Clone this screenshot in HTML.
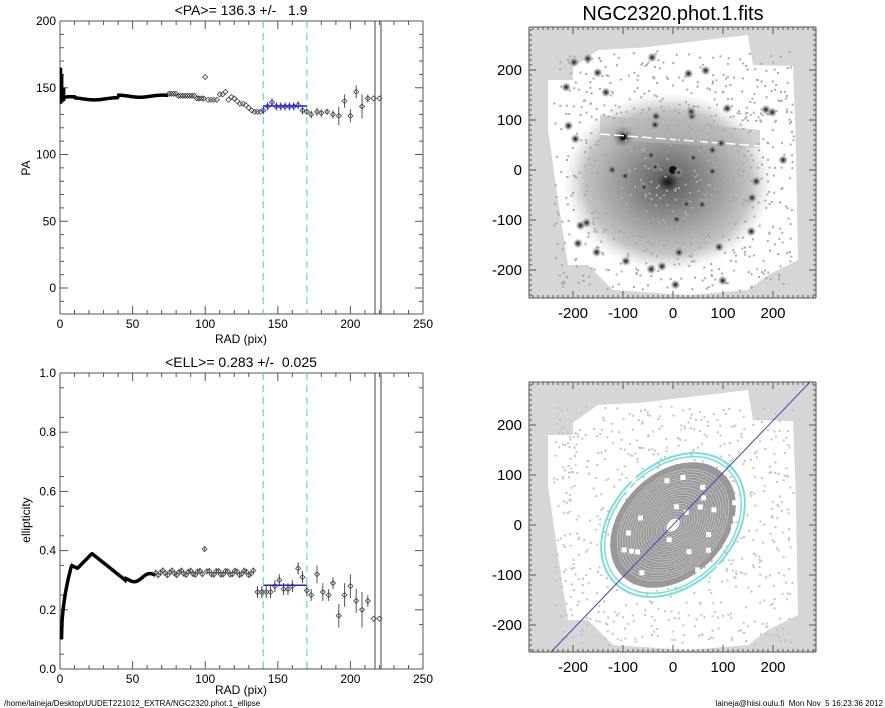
<!DOCTYPE html>
<html><head><meta charset="utf-8"><style>
body{margin:0;background:#fff;}
svg{display:block;font-family:"Liberation Sans",sans-serif;}
text{white-space:pre;}
</style></head><body>
<svg id="s" width="885" height="708" xmlns="http://www.w3.org/2000/svg">
<defs>
<radialGradient id="gal" cx="0.5" cy="0.5" r="0.5">
<stop offset="0" stop-color="#111"/><stop offset="0.1" stop-color="#666"/><stop offset="0.45" stop-color="#999"/><stop offset="0.8" stop-color="#c4c4c4"/><stop offset="1" stop-color="#ddd" stop-opacity="0"/>
</radialGradient>
<radialGradient id="star" cx="0.5" cy="0.5" r="0.5">
<stop offset="0" stop-color="#111"/><stop offset="0.4" stop-color="#777"/><stop offset="1" stop-color="#aaa" stop-opacity="0"/>
</radialGradient>
<clipPath id="c1"><rect x="529" y="27" width="287" height="271"/></clipPath>
<clipPath id="c2"><rect x="529" y="382" width="287" height="270"/></clipPath>
</defs>
<g id="g"></g>
<text x="241" y="15" font-size="14" text-anchor="middle">&lt;PA&gt;= 136.3 +/-   1.9</text>
<text x="241" y="367" font-size="14" text-anchor="middle">&lt;ELL&gt;= 0.283 +/-  0.025</text>
<text x="241" y="343" font-size="12" text-anchor="middle">RAD (pix)</text>
<text x="241" y="694" font-size="12" text-anchor="middle">RAD (pix)</text>
<text x="30" y="168" font-size="12" text-anchor="middle" transform="rotate(-90 30 168)">PA</text>
<text x="30" y="520" font-size="12" text-anchor="middle" transform="rotate(-90 30 520)">ellipticity</text>
<text x="673" y="20" font-size="20" text-anchor="middle">NGC2320.phot.1.fits</text>
<text x="4" y="706" font-size="8">/home/laineja/Desktop/UUDET221012_EXTRA/NGC2320.phot.1_ellipse</text>
<text x="883" y="706" font-size="8" text-anchor="end">laineja@hiisi.oulu.fi  Mon Nov  5 16:23:36 2012</text>
</svg>
<script>
var g=document.getElementById('g'),h='';
function L(x1,y1,x2,y2,c,w,d){h+='<line x1="'+x1+'" y1="'+y1+'" x2="'+x2+'" y2="'+y2+'" stroke="'+(c||'#000')+'" stroke-width="'+(w||1)+'"'+(d?' stroke-dasharray="'+d+'"':'')+'/>';}
function T(x,y,t,a,s){h+='<text x="'+x+'" y="'+y+'" font-size="'+(s||12)+'" text-anchor="'+(a||'middle')+'">'+t+'</text>';}
function D(x,y,c){h+='<path d="M'+x+' '+(y-2.5)+'L'+(x+2.5)+' '+y+'L'+x+' '+(y+2.5)+'L'+(x-2.5)+' '+y+'Z" fill="none" stroke="'+(c||'#444')+'" stroke-width="0.8"/>';}
function frame(top,bot,ys,yl){
 L(60,top,423,top,'#555');L(60,bot,423,bot,'#555');L(60,top,60,bot,'#555');L(423,top,423,bot,'#555');
 for(var r=0;r<=250;r+=10){var x=60+r*1.452,len=r%50==0?8:4;L(x,bot,x,bot-len,'#555');L(x,top,x,top+len,'#555');}
 for(var r=0;r<=250;r+=50)T(60+r*1.452,bot+14,r);
 for(var i=0;i<ys.length;i++){L(60,ys[i],68,ys[i],'#555');L(423,ys[i],415,ys[i],'#555');T(56,ys[i]+4,yl[i],'end');}
 var cx=[140,170];for(var k=0;k<2;k++){var x=60+cx[k]*1.452;L(x,top,x,bot,'#6dd',1.3,'7,5');}
 L(375,top,375,bot,'#444');L(381,top,381,bot,'#444');
}
function px(r){return 60+r*1.452;}
function py(p){return 288-p*1.335;}
function ey(e){return 669-e*296;}
var ys=[],yl=[];for(var p=0;p<=200;p+=50){ys.push(py(p));yl.push(p);}
frame(21,314,ys,yl);
for(var p=-10;p<200;p+=10)if(p%50){L(60,py(p),64,py(p),'#555');L(423,py(p),419,py(p),'#555');}
ys=[];yl=[];for(var e=0;e<=1.001;e+=0.2){ys.push(ey(e));yl.push(e.toFixed(1));}
frame(373,669,ys,yl);
for(var e=0.05;e<1;e+=0.1){L(60,ey(e),64,ey(e),'#555');L(423,ey(e),419,ey(e),'#555');}
// PA data
L(px(0.7),py(165),px(0.7),py(138),'#000',2.5);L(px(1.5),py(160),px(1.5),py(139),'#000',2.5);L(px(3),py(150),px(3),py(140),'#000',2);
var pts='';for(var r=1;r<75;r+=0.5){var v=142.5+0.8*Math.sin(r/5)-(r>10&&r<40?0.8:0)+(r>40?1.2:0);pts+=px(r).toFixed(1)+','+py(v).toFixed(1)+' ';}
h+='<polyline points="'+pts+'" fill="none" stroke="#000" stroke-width="3.5"/>';
for(var r=75;r<100;r+=1.6){var v=144+(r<80?1.5:0)-(r>94?2:0);D(px(r),py(v),'#333');}
var pa=[[100,158],[102,141],[104,141],[106,141],[108,141],[110,145],[112,145],[114,147],[116,141],[118,143],[120,142],[122,140],[124,138],[126,138],[128,137],[130,135],[132,133],[134,132],[136,132],[138,132]];
pa.forEach(function(a){D(px(a[0]),py(a[1]));});
var pb=[[140,133],[143,136],[146,139],[149,136],[152,136],[155,136],[158,136],[161,136],[164,137],[167,133]];
pb.forEach(function(a){L(px(a[0]),py(a[1]+3),px(a[0]),py(a[1]-3),'#33b');D(px(a[0]),py(a[1]),'#33b');});
L(px(140),py(136.3),px(170),py(136.3),'#22c',1.5);
var pc=[[170,132,2],[173,130,3],[177,132,3],[180,131,3],[184,132,2],[188,130,3],[192,129,7],[196,140,5],[200,129,5],[204,147,5],[208,136,9],[212,142,3],[216,142,0],[220,142,0]];
pc.forEach(function(a){if(a[2])L(px(a[0]),py(a[1]+a[2]),px(a[0]),py(a[1]-a[2]),'#555');D(px(a[0]),py(a[1]));});
// ELL data
pts='';for(var r=1;r<66;r+=0.4){var v;if(r<8)v=0.1+0.25*Math.sqrt((r-1)/7);else if(r<12)v=0.35-0.01*(r-8)/4;else if(r<22)v=0.34+0.05*(r-12)/10;else if(r<45)v=0.39-0.09*(r-22)/23;else v=0.30+0.01*Math.sin(r/3)+0.015*(r-45)/20;pts+=px(r).toFixed(1)+','+ey(v).toFixed(1)+' ';}
h+='<polyline points="'+pts+'" fill="none" stroke="#000" stroke-width="3.5"/>';
for(var r=66;r<134;r+=1.6){var v=0.325+0.008*Math.sin(r);if(Math.abs(r-100)<0.9)v=0.405;L(px(r),ey(v+0.01),px(r),ey(v-0.01),'#666');D(px(r),ey(v));}
var eb=[[136,0.26],[139,0.26],[142,0.26],[145,0.26],[148,0.28],[151,0.30],[154,0.27],[157,0.27],[160,0.28],[164,0.34],[167,0.31]];
eb.forEach(function(a){L(px(a[0]),ey(a[1]+0.02),px(a[0]),ey(a[1]-0.02),'#444');D(px(a[0]),ey(a[1]));});
L(px(140),ey(0.283),px(170),ey(0.283),'#22c',1.5);
var ec=[[170,0.265,0.02],[173,0.25,0.02],[177,0.32,0.03],[181,0.26,0.03],[185,0.25,0.02],[188,0.29,0.02],[192,0.18,0.04],[196,0.25,0.04],[200,0.28,0.04],[204,0.23,0.04],[208,0.20,0.06],[212,0.23,0.02],[216,0.17,0],[220,0.17,0]];
ec.forEach(function(a){if(a[2])L(px(a[0]),ey(a[1]+a[2]),px(a[0]),ey(a[1]-a[2]),'#555');D(px(a[0]),ey(a[1]));});
// ---- images
function img(top,bot,cy,n){
 h+='<g clip-path="url(#c'+n+')"><rect x="529" y="'+top+'" width="287" height="'+(bot-top)+'" fill="#d6d6d6"/>';
 h+='<polygon points="'+[[-250,180],[-200,180],[-200,205],[-150,240],[-60,245],[150,270],[160,210],[240,208],[245,80],[250,-180],[190,-210],[150,-240],[30,-250],[-120,-240],[-170,-190],[-210,-190],[-230,-60],[-250,80]].map(function(q){return (673+q[0]*0.5)+','+(cy-q[1]*0.5);}).join(' ')+'" fill="#fff"/>';
 var s=n*7+3;function rnd(){s=(s*9301+49297)%233280;return s/233280;}
 if(n==1){
  h+='<ellipse cx="668" cy="'+(cy+12)+'" rx="105" ry="90" fill="url(#gal)"/>';
  h+='<polygon points="600,'+(cy-55)+' 760,'+(cy-40)+' 760,'+(cy-22)+' 600,'+(cy-30)+'" fill="#b8b8b8" opacity="0.6"/>';
  h+='<circle cx="623" cy="'+(cy-33)+'" r="12" fill="url(#star)"/><circle cx="673" cy="'+cy+'" r="4" fill="#111"/><circle cx="623" cy="'+(cy-33)+'" r="3" fill="#111"/>';
  h+='<line x1="600" y1="'+(cy-36)+'" x2="760" y2="'+(cy-24)+'" stroke="#fff" stroke-width="1.5" stroke-dasharray="10,4"/>';
 }else{
  h+='<ellipse cx="645" cy="'+(cy-55)+'" rx="30" ry="18" fill="#fff"/>';
 }
 for(var i=0;i<700;i++){var x=673+(rnd()-0.5)*480*0.5,y=cy+(rnd()-0.5)*480*0.5;h+='<rect x="'+x.toFixed(1)+'" y="'+y.toFixed(1)+'" width="2" height="2" fill="'+(n==1?'#aaa':'#c4c4c4')+'"/>';}
 if(n==1){for(var i=0;i<45;i++){var x=673+(rnd()-0.5)*230,y=cy+(rnd()-0.5)*230;h+='<circle cx="'+x.toFixed(1)+'" cy="'+y.toFixed(1)+'" r="5" fill="url(#star)"/>';}}
 else{
  h+='<g transform="translate(673 '+cy+') rotate(-45)">';
  h+='<ellipse rx="72" ry="52" fill="#999"/>';
  for(var k=64;k>2;k-=3)h+='<ellipse rx="'+k+'" ry="'+(k*0.72)+'" fill="none" stroke="#d0d0d0" stroke-width="0.6"/>';
  h+='<ellipse rx="8" ry="5" fill="#fff"/>';
  h+='<ellipse rx="82" ry="60" fill="none" stroke="#7dd" stroke-width="2"/><ellipse rx="78" ry="57" fill="none" stroke="#7dd" stroke-width="1.5"/></g>';
  for(var i=0;i<25;i++){var x=673+(rnd()-0.5)*120,y=cy+(rnd()-0.5)*100;h+='<rect x="'+x.toFixed(1)+'" y="'+y.toFixed(1)+'" width="5" height="5" fill="#fff"/>';}
  h+='<line x1="551" y1="'+bot+'" x2="810" y2="'+top+'" stroke="#44b" stroke-width="1"/>';
 }
 h+='</g>';
 L(529,top,816,top,'#555');L(529,bot,816,bot,'#555');L(529,top,529,bot,'#555');L(816,top,816,bot,'#555');
 for(var u=-280;u<=280;u+=10){var x=673+u*0.5;if(x>529&&x<816){var ln=u%100==0?7:3;L(x,bot,x,bot-ln,'#555');L(x,top,x,top+ln,'#555');}
  var y=cy-u*0.5;if(y>top&&y<bot){var ln=u%100==0?7:3;L(529,y,529+ln,y,'#555');L(816,y,816-ln,y,'#555');}}
 for(var u=-200;u<=200;u+=100){T(673+u*0.5,bot+20,u,'middle',15);T(522,cy-u*0.5+5,u,'end',15);}
}
img(27,298,170,1);
img(382,652,525,2);
g.innerHTML=h;
</script>
</body></html>
